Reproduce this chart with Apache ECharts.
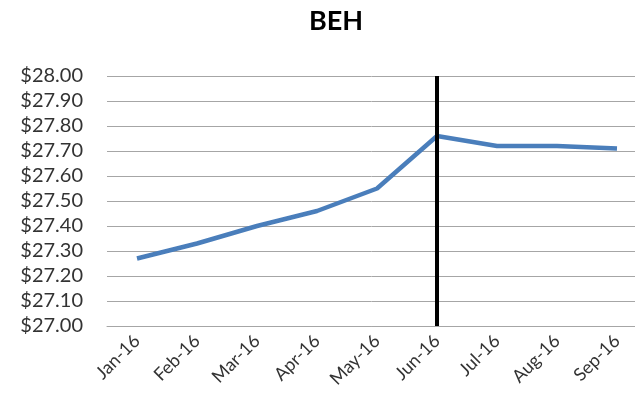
<!DOCTYPE html>
<html>
<head>
<meta charset="utf-8">
<script src="https://cdn.jsdelivr.net/npm/echarts@6/dist/echarts.min.js"></script>
<style>
  html, body { margin: 0; padding: 0; background: #fff; }
  #chart { width: 635px; height: 408px; }
</style>
</head>
<body>
<div id="chart"></div>
<script type="text/javascript">
    var months = ['Jan-16', 'Feb-16', 'Mar-16', 'Apr-16', 'May-16', 'Jun-16', 'Jul-16', 'Aug-16', 'Sep-16'];
    var price = [27.27, 27.33, 27.40, 27.46, 27.55, 27.76, 27.72, 27.72, 27.71];
    var markerMonth = 'Jun-16';

    var myChart = echarts.init(document.getElementById('chart'));
    var font = 'Lato, "Open Sans", sans-serif';
    option = {
        animation: false,
        title: {
            text: 'BEH',
            left: 304,
            top: 3,
            textStyle: { fontFamily: font, fontSize: 27, fontWeight: 'bold', color: '#000' }
        },
        // plot area runs past the right edge, like the cropped original
        grid: { left: 107, right: -12, top: 76, bottom: 82, outerBoundsMode: 'none', containLabel: false },
        xAxis: {
            type: 'category',
            data: months,
            boundaryGap: true,
            axisLine: { lineStyle: { color: '#a6a6a6', width: 1 } },
            axisTick: { show: false },
            axisLabel: { rotate: 45, color: '#333', fontFamily: font, fontSize: 18, margin: 12 }
        },
        yAxis: {
            type: 'value',
            min: 27,
            max: 28,
            interval: 0.1,
            axisLine: { show: false },
            axisTick: { show: false },
            splitLine: { lineStyle: { color: '#a6a6a6', width: 1 } },
            axisLabel: {
                color: '#333', fontFamily: font, fontSize: 20, margin: 24,
                formatter: function (v) { return '$' + v.toFixed(2); }
            }
        },
        series: [{
            type: 'line',
            data: price,
            showSymbol: false,
            lineStyle: { color: '#4a7ebb', width: 4.5 },
            markLine: {
                silent: true,
                symbol: 'none',
                label: { show: false },
                lineStyle: { color: '#000', width: 4, type: 'solid' },
                data: [{ xAxis: markerMonth }]
            }
        }]
    };
    myChart.setOption(option);
</script>
</body>
</html>
